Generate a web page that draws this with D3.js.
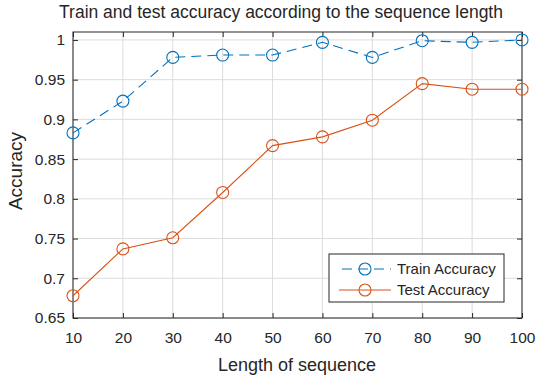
<!DOCTYPE html>
<html>
<head>
<meta charset="utf-8">
<script src="https://cdn.jsdelivr.net/npm/d3@7"></script>
<style>
  body { margin: 0; background: #fff; }
  text { font-family: "Liberation Sans", Arial, sans-serif; fill: #262626; }
</style>
</head>
<body>
<div class="chart"></div>
<script>
const svgWidth = 550
const svgHeight = 381

// sequence lengths and accuracies
const seqLengths = [10, 20, 30, 40, 50, 60, 70, 80, 90, 100]
const trainAcc = [0.883, 0.923, 0.978, 0.981, 0.981, 0.997, 0.978, 0.999, 0.997, 1.0]
const testAcc = [0.678, 0.737, 0.751, 0.808, 0.867, 0.878, 0.899, 0.945, 0.938, 0.938]
const yTicks = [0.65, 0.7, 0.75, 0.8, 0.85, 0.9, 0.95, 1]
const seriesNames = ["Train Accuracy", "Test Accuracy"]

let margin = { top: 32, right: 28, bottom: 63, left: 73 }
let width = svgWidth - margin.left - margin.right
let height = svgHeight - margin.top - margin.bottom

const blue = "#0072BD"
const orange = "#D95319"

let svg = d3.select(".chart")
  .append("svg")
  .attr("width", svgWidth)
  .attr("height", svgHeight)

let chartGroup = svg.append("g")
  .attr("transform", `translate(${margin.left}, ${margin.top})`)

let xScale = d3.scaleLinear().domain([10, 100]).range([0, width])
let yScale = d3.scaleLinear().domain([0.65, 1.01]).range([height, 0])

// grid
chartGroup.append("g")
  .selectAll("line")
  .data(seqLengths)
  .enter().append("line")
  .attr("x1", d => xScale(d)).attr("x2", d => xScale(d))
  .attr("y1", 0).attr("y2", height)
  .attr("stroke", "#dcdcdc")
chartGroup.append("g")
  .selectAll("line")
  .data(yTicks)
  .enter().append("line")
  .attr("y1", d => yScale(d)).attr("y2", d => yScale(d))
  .attr("x1", 0).attr("x2", width)
  .attr("stroke", "#dcdcdc")

// axes with inward ticks (box style)
let bottomAxis = d3.axisBottom(xScale).tickValues(seqLengths).tickSizeInner(-5).tickSizeOuter(0).tickPadding(14)
let topAxis = d3.axisTop(xScale).tickValues(seqLengths).tickSizeInner(-5).tickSizeOuter(0).tickFormat("")
let leftAxis = d3.axisLeft(yScale).tickValues(yTicks).tickSizeInner(-5).tickSizeOuter(0).tickPadding(8)
  .tickFormat(d => d3.format("~g")(d))
let rightAxis = d3.axisRight(yScale).tickValues(yTicks).tickSizeInner(-5).tickSizeOuter(0).tickFormat("")

function styleAxis(g) {
  g.select(".domain").remove()
  g.selectAll("line").attr("stroke", "#262626")
  g.selectAll("text").attr("font-size", 15.5).attr("fill", "#262626")
    .attr("font-family", "Liberation Sans, Arial, sans-serif")
}

chartGroup.append("g").attr("transform", `translate(0, ${height})`).call(bottomAxis).call(styleAxis)
chartGroup.append("g").call(topAxis).call(styleAxis)
chartGroup.append("g").call(leftAxis).call(styleAxis)
chartGroup.append("g").attr("transform", `translate(${width}, 0)`).call(rightAxis).call(styleAxis)

chartGroup.append("rect")
  .attr("width", width).attr("height", height)
  .attr("fill", "none").attr("stroke", "#262626").attr("stroke-width", 1)

// lines
let line = d3.line()
  .x((d, i) => xScale(seqLengths[i]))
  .y(d => yScale(d))

chartGroup.append("path").datum(trainAcc)
  .attr("d", line).attr("fill", "none")
  .attr("stroke", blue).attr("stroke-width", 1.1)
  .attr("stroke-dasharray", "10,6")
chartGroup.append("path").datum(testAcc)
  .attr("d", line).attr("fill", "none")
  .attr("stroke", orange).attr("stroke-width", 1.1)

chartGroup.selectAll("circle.train")
  .data(trainAcc).enter().append("circle")
  .attr("cx", (d, i) => xScale(seqLengths[i]))
  .attr("cy", d => yScale(d))
  .attr("r", 6).attr("fill", "none").attr("stroke", blue).attr("stroke-width", 1.1)
chartGroup.selectAll("circle.test")
  .data(testAcc).enter().append("circle")
  .attr("cx", (d, i) => xScale(seqLengths[i]))
  .attr("cy", d => yScale(d))
  .attr("r", 6).attr("fill", "none").attr("stroke", orange).attr("stroke-width", 1.1)

// legend
let legend = chartGroup.append("g").attr("transform", `translate(${329 - margin.left}, ${254 - margin.top})`)
legend.append("rect").attr("width", 175).attr("height", 48)
  .attr("fill", "#fff").attr("stroke", "#262626")
const legendColors = [blue, orange]
seriesNames.forEach((name, i) => {
  let y = 15 + i * 21
  legend.append("line")
    .attr("x1", 10).attr("x2", 62).attr("y1", y).attr("y2", y)
    .attr("stroke", legendColors[i]).attr("stroke-width", 1.1)
    .attr("stroke-dasharray", i === 0 ? "10,6" : null)
    .attr("stroke-dashoffset", i === 0 ? -3 : 0)
  legend.append("circle").attr("cx", 36).attr("cy", y).attr("r", 6)
    .attr("fill", "none").attr("stroke", legendColors[i]).attr("stroke-width", 1.1)
  legend.append("text").attr("x", 68).attr("y", y + 5)
    .attr("font-size", 15).text(name)
})

// title and labels
svg.append("text")
  .attr("x", 281).attr("y", 18)
  .attr("text-anchor", "middle").attr("font-size", 17.5)
  .text("Train and test accuracy according to the sequence length")

svg.append("text")
  .attr("x", 297).attr("y", 371)
  .attr("text-anchor", "middle").attr("font-size", 18)
  .text("Length of sequence")

svg.append("text")
  .attr("transform", `translate(22, 171) rotate(-90)`)
  .attr("text-anchor", "middle").attr("font-size", 19)
  .text("Accuracy")
</script>
</body>
</html>
